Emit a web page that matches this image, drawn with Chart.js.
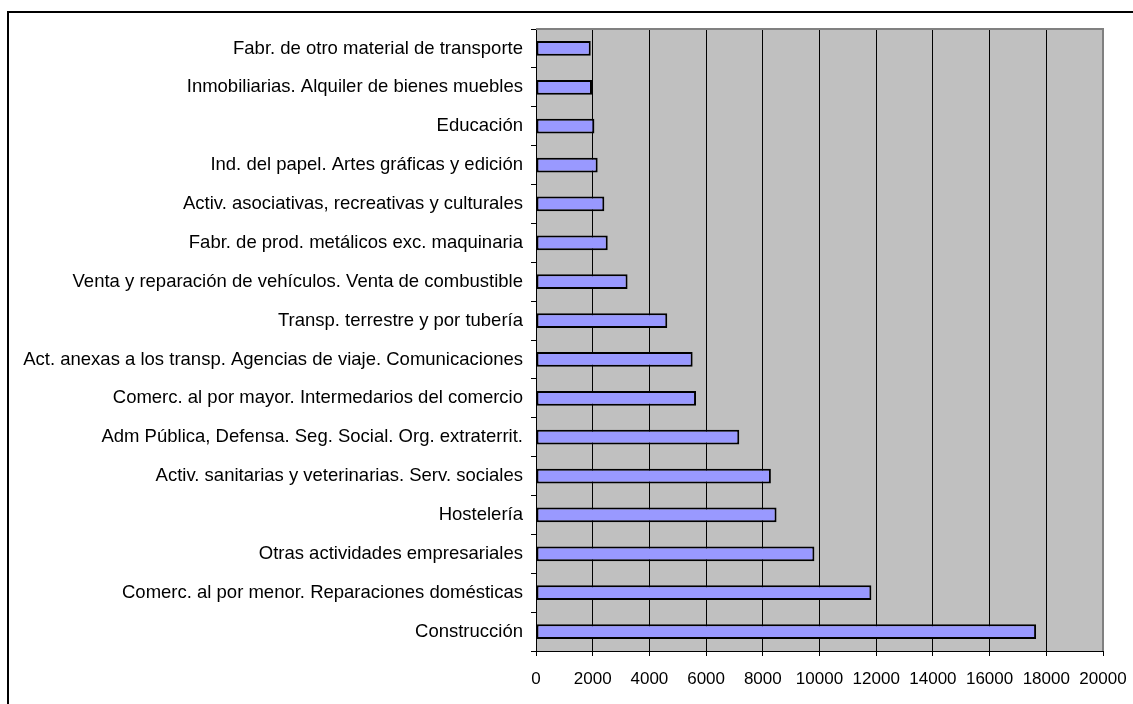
<!DOCTYPE html>
<html>
<head>
<meta charset="utf-8">
<script src="https://cdn.jsdelivr.net/npm/chart.js@4/dist/chart.umd.min.js"></script>
<style>
  html, body { margin: 0; padding: 0; background: #fff; }
  #wrap { position: relative; width: 1133px; height: 704px; }
</style>
</head>
<body>
<div id="wrap"><canvas id="c" width="1133" height="704"></canvas></div>
<script>
// sectors, top to bottom as drawn
const sectors = [
  'Fabr. de otro material de transporte',
  'Inmobiliarias. Alquiler de bienes muebles',
  'Educación',
  'Ind. del papel. Artes gráficas y edición',
  'Activ. asociativas, recreativas y culturales',
  'Fabr. de prod. metálicos exc. maquinaria',
  'Venta y reparación de vehículos. Venta de combustible',
  'Transp. terrestre y por tubería',
  'Act. anexas a los transp. Agencias de viaje. Comunicaciones',
  'Comerc. al por mayor. Intermedarios del comercio',
  'Adm Pública, Defensa. Seg. Social. Org. extraterrit.',
  'Activ. sanitarias y veterinarias. Serv. sociales',
  'Hostelería',
  'Otras actividades empresariales',
  'Comerc. al por menor. Reparaciones domésticas',
  'Construcción'
];
const values = [1930, 1975, 2060, 2175, 2410, 2530, 3230, 4630, 5525, 5645, 7170, 8285, 8485, 9820, 11830, 17640];
const xTicks = [0, 2000, 4000, 6000, 8000, 10000, 12000, 14000, 16000, 18000, 20000];

const FONT = '"Liberation Sans", Arial, sans-serif';

const frame = {
  id: 'frame',
  beforeDraw(chart) {
    const { ctx, chartArea: a } = chart;
    ctx.save();
    ctx.fillStyle = '#c0c0c0';
    ctx.fillRect(a.left, a.top, a.right - a.left, a.bottom - a.top);
    ctx.restore();
  },
  afterDraw(chart) {
    const { ctx, chartArea: a } = chart;
    ctx.save();
    // plot area edge (top/right)
    ctx.strokeStyle = '#808080';
    ctx.lineWidth = 2;
    ctx.beginPath();
    ctx.moveTo(a.left, a.top);
    ctx.lineTo(a.right, a.top);
    ctx.lineTo(a.right, a.bottom);
    ctx.stroke();
    // outer chart border, only left and top are in the picture
    ctx.strokeStyle = '#000';
    ctx.lineWidth = 2;
    ctx.beginPath();
    ctx.moveTo(8, 704);
    ctx.lineTo(8, 12);
    ctx.lineTo(1133, 12);
    ctx.stroke();
    ctx.restore();
  }
};

new Chart(document.getElementById('c'), {
  type: 'bar',
  data: {
    labels: sectors,
    datasets: [{
      data: values,
      backgroundColor: '#9999ff',
      borderColor: '#000',
      borderWidth: 2,
      borderSkipped: false,
      categoryPercentage: 1,
      barPercentage: 0.38
    }]
  },
  options: {
    indexAxis: 'y',
    responsive: false,
    animation: false,
    layout: { padding: { top: 29, right: 30, left: 0, bottom: 0 } },
    plugins: { legend: { display: false }, tooltip: { enabled: false } },
    scales: {
      x: {
        min: 0, max: 20000,
        afterBuildTicks: s => { s.ticks = xTicks.map(v => ({ value: v })); },
        afterFit: s => { s.height = 53; s.paddingLeft = 0; s.paddingRight = 0; },
        grid: { color: '#000', lineWidth: 1, tickLength: 5, tickColor: '#000' },
        border: { color: '#000', width: 1 },
        ticks: {
          color: '#000', font: { family: FONT, size: 17 }, padding: 13,
          maxRotation: 0, autoSkip: false,
          callback: v => String(v)
        }
      },
      y: {
        afterFit: s => { s.width = 536; },
        grid: { drawOnChartArea: false, tickLength: 5, tickColor: '#000', offset: true },
        border: { color: '#000', width: 1 },
        ticks: { color: '#000', font: { family: FONT, size: 18.5 }, padding: 8, autoSkip: false }
      }
    }
  },
  plugins: [frame]
});
</script>
</body>
</html>
